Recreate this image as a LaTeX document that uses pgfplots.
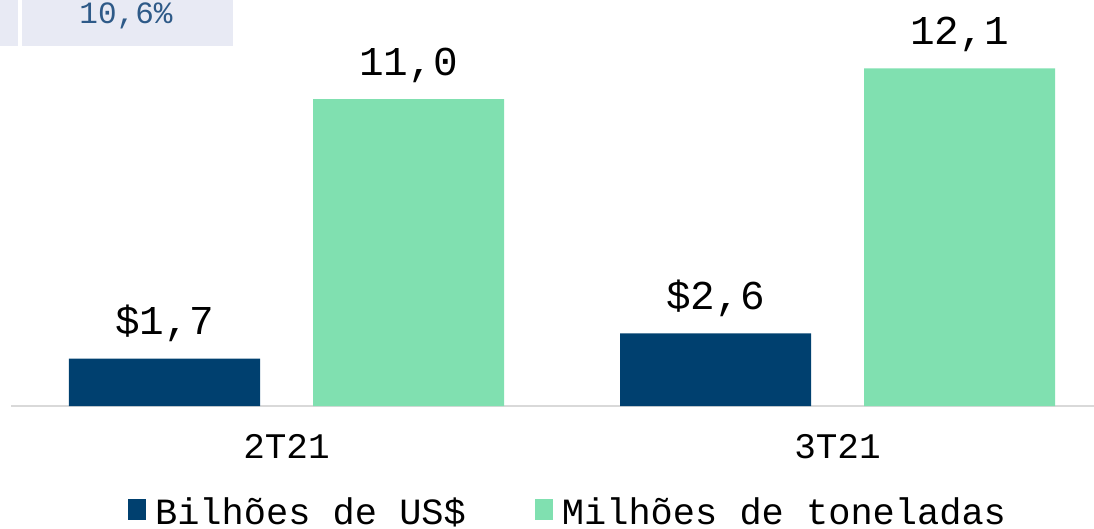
\documentclass[border=0pt]{standalone}
\usepackage{fontspec}
\setmainfont{Liberation Mono}
\usepackage{pgfplots}
\pgfplotsset{compat=1.18}
\definecolor{cblue}{HTML}{00406F}
\definecolor{cgreen}{HTML}{80E0B0}
\definecolor{boxbg}{HTML}{E8EAF4}
\definecolor{boxtxt}{HTML}{2E5A88}
\begin{document}
\begin{tikzpicture}
\path[use as bounding box] (0pt,0pt) rectangle (1094pt,528pt);
% fragment of the table above the chart
\fill[boxbg] (0pt,482pt) rectangle (18pt,528pt);
\fill[boxbg] (22pt,482pt) rectangle (233pt,528pt);
\node[anchor=base, text=boxtxt, font=\fontsize{31}{31}\selectfont, inner sep=0pt]
  at (126pt,504pt) {10,6\%};
\begin{axis}[
  at={(11pt,122pt)}, anchor=south west,
  scale only axis, width=1102pt, height=390.6pt,
  xmin=-0.5, xmax=1.5, ymin=0, ymax=14,
  axis x line=bottom, axis y line=none,
  x axis line style={draw=black!15, line width=2.5pt, -},
  xtick={0,1}, xticklabels={2T21,3T21},
  major tick length=0pt,
  xticklabel style={font=\fontsize{36}{36}\selectfont, anchor=base, yshift=-52pt, inner sep=0pt},
  ybar, bar width=191pt,
  clip=false,
  point meta=explicit symbolic,
  nodes near coords,
  every node near coord/.append style={font=\fontsize{41}{41}\selectfont, anchor=base, yshift=24pt, inner sep=0pt, text=black},
  legend style={at={(0.5055,-0.270)}, anchor=center, draw=none, fill=none,
    font=\fontsize{37}{37}\selectfont,
    /tikz/every even column/.append style={column sep=67pt}},
  legend columns=2,
  legend image code/.code={\fill[#1] (0pt,-9pt) rectangle (18pt,12pt); \path (25pt,0pt);},
]
\addplot[fill=cblue, draw=none, bar shift=-122pt]
  coordinates {(0,1.7) [\$1,7] (1,2.6) [\$2,6]};
\addplot[fill=cgreen, draw=none, bar shift=122pt]
  coordinates {(0,11.0) [11,0] (1,12.1) [12,1]};
\legend{Bilhões de US\$, Milhões de toneladas}
\end{axis}
\end{tikzpicture}
\end{document}
